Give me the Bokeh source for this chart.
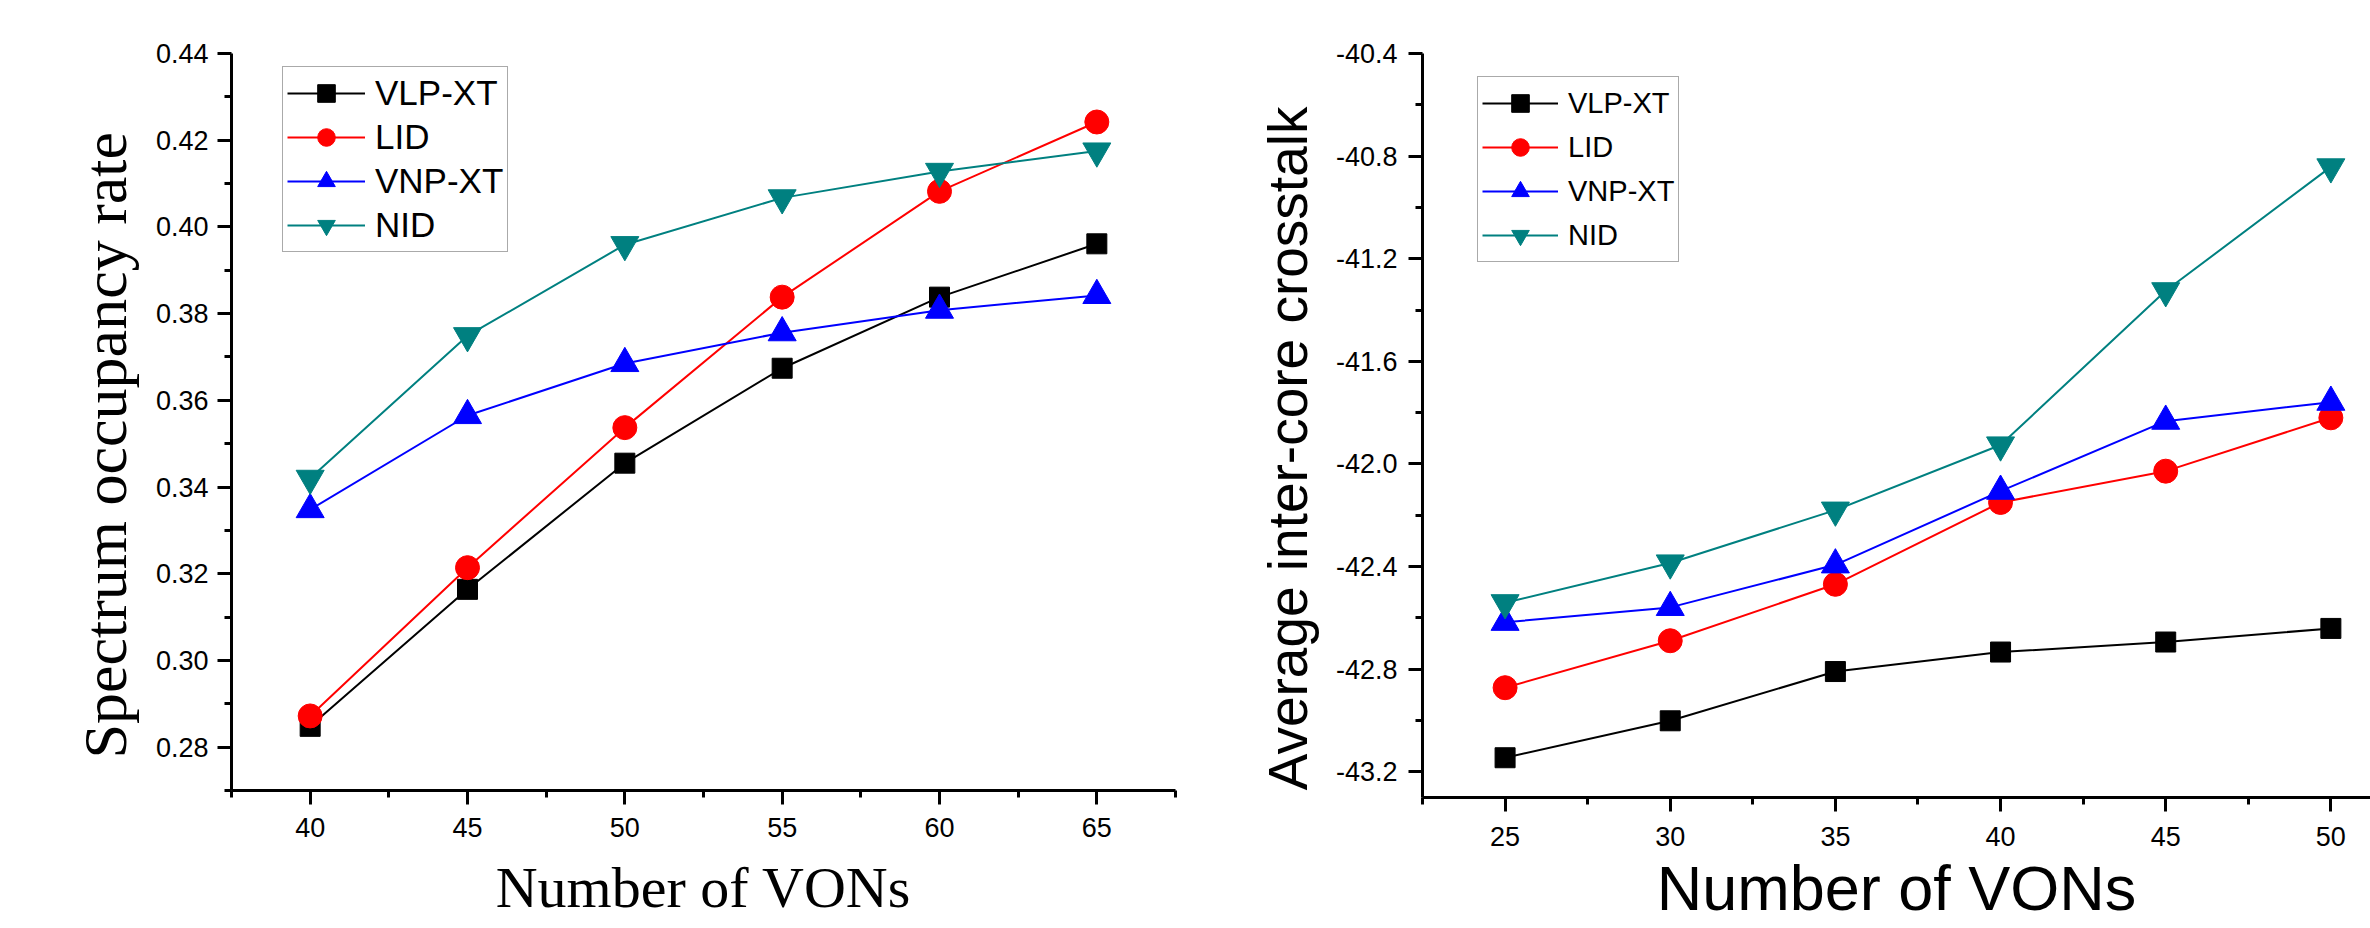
from bokeh.plotting import figure
from bokeh.layouts import row
from bokeh.models import FixedTicker, PrintfTickFormatter, Legend, LegendItem, Range1d
from bokeh.embed import file_html
from bokeh.resources import INLINE

# ---------------- data ----------------
series_names = ["VLP-XT", "LID", "VNP-XT", "NID"]

left_x = [40, 45, 50, 55, 60, 65]
left_vlp_xt = [0.2848, 0.3164, 0.3455, 0.3674, 0.3838, 0.3961]
left_lid = [0.2872, 0.3214, 0.3537, 0.3838, 0.4082, 0.4242]
left_vnp_xt = [0.3348, 0.3565, 0.3685, 0.3756, 0.3808, 0.3842]
left_nid = [0.3420, 0.3749, 0.3959, 0.4067, 0.4128, 0.4175]

right_x = [25, 30, 35, 40, 45, 50]
right_vlp_xt = [-43.145, -43.001, -42.809, -42.733, -42.694, -42.641]
right_lid = [-42.872, -42.689, -42.469, -42.150, -42.028, -41.820]
right_vnp_xt = [-42.617, -42.559, -42.393, -42.106, -41.833, -41.759]
right_nid = [-42.541, -42.386, -42.180, -41.926, -41.325, -40.842]

left_xticks = [40, 45, 50, 55, 60, 65]
left_xminor = [37.5, 42.5, 47.5, 52.5, 57.5, 62.5, 67.5]
left_yticks = [0.28, 0.30, 0.32, 0.34, 0.36, 0.38, 0.40, 0.42, 0.44]
left_yminor = [0.27, 0.29, 0.31, 0.33, 0.35, 0.37, 0.39, 0.41, 0.43]

right_xticks = [25, 30, 35, 40, 45, 50]
right_xminor = [22.5, 27.5, 32.5, 37.5, 42.5, 47.5]
right_yticks = [-43.2, -42.8, -42.4, -42.0, -41.6, -41.2, -40.8, -40.4]
right_yminor = [-43.0, -42.6, -42.2, -41.8, -41.4, -41.0, -40.6]

left_xtitle = "Number of VONs"
left_ytitle = "Spectrum occupancy rate"
right_xtitle = "Number of VONs"
right_ytitle = "Average inter-core crosstalk"

# ---------------- styles ----------------
colors = ["#000000", "#FF0000", "#0000FF", "#008080"]
markers = ["square", "circle", "triangle", "inverted_triangle"]
msizes = [20, 24, 28, 28]
NB = "\u00a0"


def build(x, ys, xr, yr, xticks, xminor, yticks, yminor, yfmt,
          xlabel, ylabel, title_font, xtitle_size, ytitle_size,
          fw, fh, mb_left, mb_right, mb_top, mb_bottom,
          legend_loc, legend_font_size, glyph_w, xl_standoff, yl_standoff,
          xt_standoff, yt_standoff):
    p = figure(frame_width=fw, frame_height=fh, output_backend="svg", toolbar_location=None,
               x_range=Range1d(*xr), y_range=Range1d(*yr),
               min_border_left=mb_left, min_border_right=mb_right,
               min_border_top=mb_top, min_border_bottom=mb_bottom)
    p.outline_line_color = None
    p.xgrid.visible = False
    p.ygrid.visible = False
    p.background_fill_color = "white"
    p.border_fill_color = "white"

    items = []
    for name, yv, c, m, s in zip(series_names, ys, colors, markers, msizes):
        lr = p.line(x, yv, line_color=c, line_width=2)
        sr = p.scatter(x, yv, marker=m, size=s, fill_color=c, line_color=c)
        items.append(LegendItem(label=name, renderers=[lr, sr]))

    legend = Legend(items=items, location=legend_loc,
                    label_text_font="Liberation Sans",
                    label_text_font_size=f"{legend_font_size}px",
                    label_text_line_height=1.0,
                    label_text_color="black",
                    glyph_width=glyph_w, glyph_height=44, spacing=0, padding=4,
                    label_standoff=10,
                    border_line_color="#555555", border_line_width=1.5,
                    background_fill_color="white", background_fill_alpha=1.0)
    p.add_layout(legend, "center")

    for ax, ticks, minor in ((p.xaxis[0], xticks, xminor), (p.yaxis[0], yticks, yminor)):
        ax.ticker = FixedTicker(ticks=ticks, minor_ticks=minor)
        ax.axis_line_width = 3
        ax.axis_line_color = "black"
        ax.major_tick_line_width = 3
        ax.minor_tick_line_width = 3
        ax.major_tick_out = 14
        ax.major_tick_in = 0
        ax.minor_tick_out = 7
        ax.minor_tick_in = 0
        ax.major_label_text_font = "Liberation Sans"
        ax.major_label_text_font_size = "27px"
        ax.major_label_text_color = "black"
        ax.axis_label_text_font = title_font
        ax.axis_label_text_font_style = "normal"
        ax.axis_label_text_color = "black"

    p.yaxis[0].formatter = PrintfTickFormatter(format=yfmt)
    p.xaxis[0].axis_label = xlabel
    p.yaxis[0].axis_label = ylabel + NB * 3
    p.xaxis[0].axis_label_text_font_size = f"{xtitle_size}px"
    p.yaxis[0].axis_label_text_font_size = f"{ytitle_size}px"
    p.xaxis[0].major_label_standoff = xt_standoff
    p.yaxis[0].major_label_standoff = yt_standoff
    p.xaxis[0].axis_label_standoff = xl_standoff
    p.yaxis[0].axis_label_standoff = yl_standoff
    return p


p1 = build(left_x, [left_vlp_xt, left_lid, left_vnp_xt, left_nid],
           (37.5, 67.5), (0.27, 0.44),
           left_xticks, left_xminor, left_yticks, left_yminor, "%.2f",
           left_xtitle, left_ytitle, "Liberation Serif", 58, 62,
           fw=944, fh=737, mb_left=231, mb_right=20, mb_top=51, mb_bottom=139,
           legend_loc=(51, 538), legend_font_size=35, glyph_w=78,
           xl_standoff=15, yl_standoff=14, xt_standoff=13, yt_standoff=9)

p2 = build(right_x, [right_vlp_xt, right_lid, right_vnp_xt, right_nid],
           (22.5, 51.2), (-43.3, -40.4),
           right_xticks, right_xminor, right_yticks, right_yminor, "%.1f",
           right_xtitle, right_ytitle, "Liberation Sans", 63, 55,
           fw=948, fh=744, mb_left=227, mb_right=0, mb_top=53, mb_bottom=131,
           legend_loc=(55, 535), legend_font_size=29, glyph_w=76,
           xl_standoff=4, yl_standoff=14, xt_standoff=15, yt_standoff=11)

layout = row(p1, p2)
open("out.html", "w").write(file_html(layout, INLINE))
